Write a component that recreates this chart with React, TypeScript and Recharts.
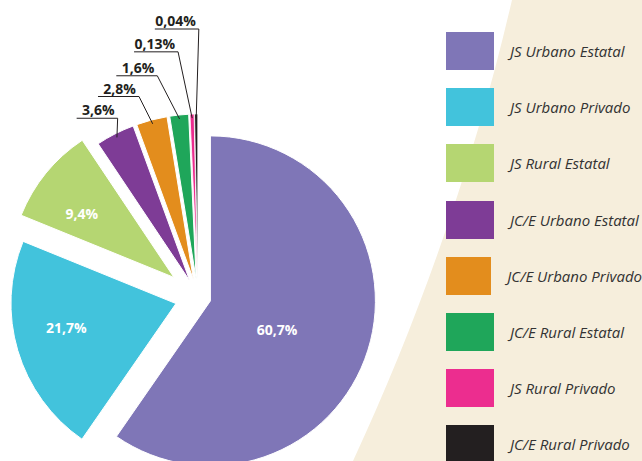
import React from "react"
import { Legend, Pie, PieChart, Sector } from "recharts"

const categories = [
  "JS Urbano Estatal",
  "JS Urbano Privado",
  "JS Rural Estatal",
  "JC/E Urbano Estatal",
  "JC/E Urbano Privado",
  "JC/E Rural Estatal",
  "JS Rural Privado",
  "JC/E Rural Privado",
]
const shares = [60.7, 21.7, 9.4, 3.6, 2.8, 1.6, 0.13, 0.04]
const shareLabels = ["60,7%", "21,7%", "9,4%", "3,6%", "2,8%", "1,6%", "0,13%", "0,04%"]

// styling
const COLORS = ["#7F76B7", "#42C3DC", "#B5D672", "#7E3C96", "#E38D1D", "#1FA65A", "#EC2D8F", "#231F20"]
const EXPLODE = [13, 23, 31, 18, 18, 18, 18, 18]
// inside labels (slices 0..2)
const INNER_RADIUS = [0.44, 0.68, 0.68]
const INNER_TILT = [-6, -4.5, 4.5]
// outside labels (slices 3..7): extra radius and angle tilt of the elbow
const LEADER_RADIUS = [13, 26, 42, 63, 85]
const LEADER_TILT = [-3, 1.9, 4.9, 3, -0.8]
const RAD = Math.PI / 180
const DARK = "#231F20"

const data = categories.map((name, i) => ({ name, value: shares[i] }))

const polar = (x: number, y: number, r: number, a: number) => ({
  x: x + r * Math.cos(-a * RAD),
  y: y + r * Math.sin(-a * RAD),
})

const renderSlice = (props: any) => {
  const { cx, cy, outerRadius, startAngle, endAngle, midAngle, index } = props
  const o = polar(cx, cy, EXPLODE[index], midAngle)
  const text = shareLabels[index]
  const slice = (
    <Sector
      cx={o.x}
      cy={o.y}
      innerRadius={0}
      outerRadius={outerRadius}
      startAngle={startAngle}
      endAngle={endAngle}
      fill={COLORS[index]}
      stroke="#fff"
      strokeWidth={index > 5 ? 0.8 : 1}
    />
  )

  if (index < 3) {
    const p = polar(o.x, o.y, outerRadius * INNER_RADIUS[index], midAngle + INNER_TILT[index])
    return (
      <g key={"s" + index}>
        {slice}
        <text
          x={p.x}
          y={p.y}
          textAnchor="middle"
          dominantBaseline="central"
          fill="#fff"
          fontFamily="'Open Sans', sans-serif"
          fontWeight={700}
          fontSize={14}
        >
          {text}
        </text>
      </g>
    )
  }

  const k = index - 3
  const start = polar(o.x, o.y, outerRadius - 4, midAngle)
  const elbow = polar(o.x, o.y, outerRadius + LEADER_RADIUS[k], midAngle + LEADER_TILT[k])
  const w = text.length > 4 ? 44 : 41
  return (
    <g key={"s" + index}>
      {slice}
      <polyline
        points={`${start.x},${start.y} ${elbow.x},${elbow.y} ${elbow.x - w},${elbow.y}`}
        fill="none"
        stroke={DARK}
        strokeWidth={1}
      />
      <text
        x={elbow.x - 3}
        y={elbow.y - 3}
        textAnchor="end"
        fill={DARK}
        fontFamily="'Open Sans', sans-serif"
        fontWeight={700}
        fontSize={14}
      >
        {text}
      </text>
    </g>
  )
}

const renderLegend = (props: any) => {
  const items = [...(props.payload || [])].sort(
    (a: any, b: any) => categories.indexOf(a.value) - categories.indexOf(b.value)
  )
  return (
    <div>
      {items.map((entry: any) => {
        const i = categories.indexOf(entry.value)
        return (
          <div key={entry.value} style={{ display: "flex", alignItems: "center", height: 56.2 }}>
            <div style={{ width: 48, height: 38, background: COLORS[i] }} />
            <span
              style={{
                marginLeft: 16,
                fontFamily: "'Open Sans', sans-serif",
                fontStyle: "italic",
                fontSize: 15,
                color: "#333",
                whiteSpace: "nowrap",
              }}
            >
              {entry.value}
            </span>
          </div>
        )
      })}
    </div>
  )
}

export default function App() {
  return (
    <div style={{ position: "absolute", left: 0, top: 0, width: 642, height: 461, overflow: "hidden", background: "#fff" }}>
      <svg width={642} height={461} style={{ position: "absolute", left: 0, top: 0 }}>
        <path d="M512,0 L642,0 L642,461 L353,461 C422.8,311 477.5,150 512,0 Z" fill="#F6EEDC" />
      </svg>
      <div style={{ position: "absolute", left: 0, top: 0 }}>
        <PieChart width={642} height={461} margin={{ top: 0, right: 0, bottom: 0, left: 0 }}>
          <Pie
            data={data}
            dataKey="value"
            nameKey="name"
            cx={198}
            cy={297}
            outerRadius={165}
            startAngle={90}
            endAngle={-270}
            minAngle={1}
            fill="transparent"
            stroke="none"
            label={renderSlice}
            labelLine={false}
            isAnimationActive={false}
          />
          <Legend
            layout="vertical"
            align="right"
            verticalAlign="top"
            content={renderLegend}
            wrapperStyle={{ left: 446, top: 23, width: 196 }}
          />
        </PieChart>
      </div>
    </div>
  )
}
